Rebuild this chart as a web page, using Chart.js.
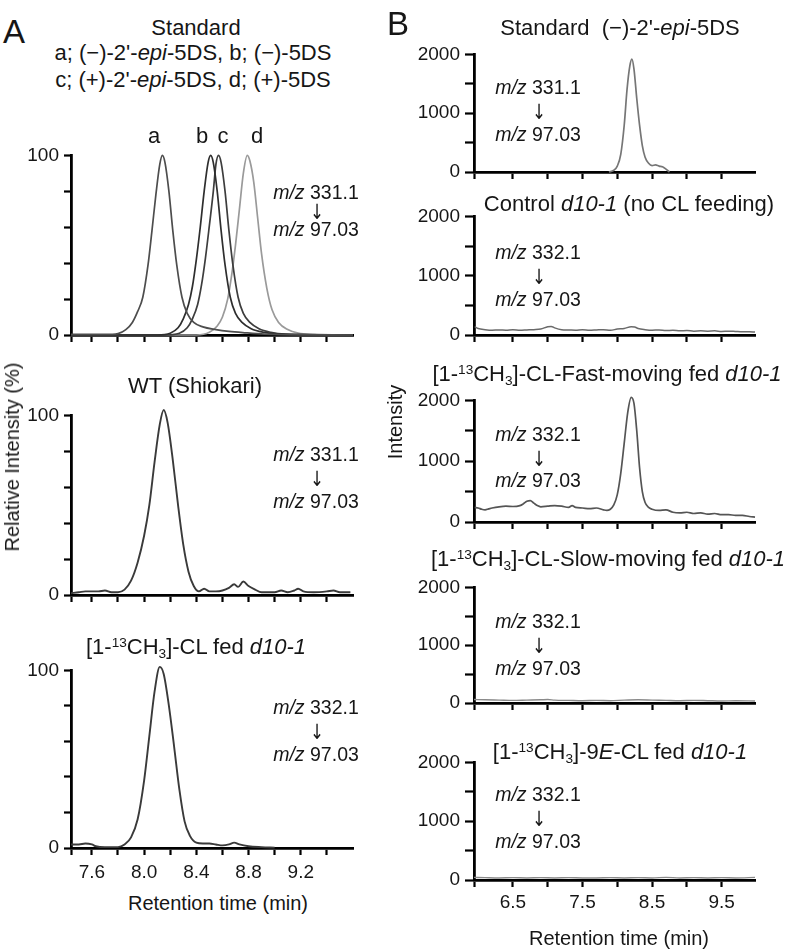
<!DOCTYPE html>
<html><head><meta charset="utf-8">
<script src="https://cdn.jsdelivr.net/npm/chart.js@4"></script>
<style>
body{margin:0;background:#fff;width:793px;height:949px;position:relative;overflow:hidden;font-family:"Liberation Sans",Arial,sans-serif;color:#161616}
canvas{position:absolute}
.t{position:absolute;white-space:nowrap;line-height:1;transform:translate(-50%,-50%);font-size:22px;z-index:2}
.m{font-size:19.5px}
.ar{font-size:21px;font-family:"DejaVu Sans",sans-serif;transform:translate(-50%,-50%) scaleX(0.8)}
.big{font-size:33px}
.rot{transform:translate(-50%,-50%) rotate(-90deg);font-size:20px}
sup{font-size:0.62em;vertical-align:0;position:relative;top:-0.5em}
sub{font-size:0.62em;vertical-align:0;position:relative;top:0.28em}
</style>
</head><body>
<canvas id="a1"></canvas><canvas id="a2"></canvas><canvas id="a3"></canvas>
<canvas id="b1"></canvas><canvas id="b2"></canvas><canvas id="b3"></canvas><canvas id="b4"></canvas><canvas id="b5"></canvas>

<div class="t big" style="left:14px;top:31px">A</div>
<div class="t" style="left:196px;top:28px">Standard</div>
<div class="t" style="left:193px;top:53px">a; (−)-2'-<i>epi</i>-5DS, b; (−)-5DS</div>
<div class="t" style="left:193px;top:80px">c; (+)-2'-<i>epi</i>-5DS, d; (+)-5DS</div>
<div class="t" style="left:154px;top:136px">a</div>
<div class="t" style="left:202px;top:136px">b</div>
<div class="t" style="left:223px;top:136px">c</div>
<div class="t" style="left:257px;top:136px">d</div>
<div class="t m" style="left:316px;top:193px"><i>m/z</i> 331.1</div>
<div class="t ar" style="left:317px;top:212px">↓</div>
<div class="t m" style="left:316px;top:230px"><i>m/z</i> 97.03</div>

<div class="t" style="left:195px;top:386px">WT (Shiokari)</div>
<div class="t m" style="left:316px;top:455px"><i>m/z</i> 331.1</div>
<div class="t ar" style="left:317px;top:479px">↓</div>
<div class="t m" style="left:316px;top:502px"><i>m/z</i> 97.03</div>

<div class="t" style="left:196px;top:647px">[1-<sup>13</sup>CH<sub>3</sub>]-CL fed <i>d10-1</i></div>
<div class="t m" style="left:316px;top:708px"><i>m/z</i> 332.1</div>
<div class="t ar" style="left:317px;top:732px">↓</div>
<div class="t m" style="left:316px;top:755px"><i>m/z</i> 97.03</div>

<div class="t" style="left:218px;top:903px;font-size:20px">Retention time (min)</div>
<div class="t rot" style="left:12px;top:457px">Relative Intensity (%)</div>

<div class="t big" style="left:398px;top:23px">B</div>
<div class="t" style="left:620px;top:28px">Standard&nbsp; (−)-2'-<i>epi</i>-5DS</div>
<div class="t m" style="left:538px;top:88px"><i>m/z</i> 331.1</div>
<div class="t ar" style="left:539px;top:112px">↓</div>
<div class="t m" style="left:538px;top:135px"><i>m/z</i> 97.03</div>

<div class="t" style="left:629px;top:204px">Control <i>d10-1</i> (no CL feeding)</div>
<div class="t m" style="left:538px;top:253px"><i>m/z</i> 332.1</div>
<div class="t ar" style="left:539px;top:277px">↓</div>
<div class="t m" style="left:538px;top:300px"><i>m/z</i> 97.03</div>

<div class="t" style="left:607px;top:374px">[1-<sup>13</sup>CH<sub>3</sub>]-CL-Fast-moving fed <i>d10-1</i></div>
<div class="t m" style="left:538px;top:435px"><i>m/z</i> 332.1</div>
<div class="t ar" style="left:539px;top:459px">↓</div>
<div class="t m" style="left:538px;top:481px"><i>m/z</i> 97.03</div>

<div class="t" style="left:608px;top:559px">[1-<sup>13</sup>CH<sub>3</sub>]-CL-Slow-moving fed <i>d10-1</i></div>
<div class="t m" style="left:538px;top:622px"><i>m/z</i> 332.1</div>
<div class="t ar" style="left:539px;top:646px">↓</div>
<div class="t m" style="left:538px;top:669px"><i>m/z</i> 97.03</div>

<div class="t" style="left:620px;top:752px">[1-<sup>13</sup>CH<sub>3</sub>]-9<i>E</i>-CL fed <i>d10-1</i></div>
<div class="t m" style="left:538px;top:795px"><i>m/z</i> 332.1</div>
<div class="t ar" style="left:539px;top:819px">↓</div>
<div class="t m" style="left:538px;top:842px"><i>m/z</i> 97.03</div>

<div class="t" style="left:619px;top:938px;font-size:20px">Retention time (min)</div>
<div class="t rot" style="left:395px;top:422px">Intensity</div>

<script>
// ---------- Panel A: x ticks / labels ----------
const aTicks = [7.44, 7.6, 7.8, 8.0, 8.2, 8.4, 8.6, 8.8, 9.0, 9.2, 9.4];
const aTickLabels = ['', '7.6', '', '8.0', '', '8.4', '', '8.8', '', '9.2', ''];
const aYTicks = [0, 20, 40, 60, 80, 100];
const aYLabels = ['0', '', '', '', '', '100'];

// Standard a,b,c,d (relative intensity %)
const stdA_t = [7.44, 7.70, 7.80, 7.86, 7.91, 7.95, 7.99, 8.03, 8.06, 8.09, 8.12, 8.14, 8.16, 8.19, 8.22, 8.25, 8.29, 8.33, 8.38, 8.45, 8.55, 8.65, 8.78, 8.92, 9.05, 9.60];
const stdA_v = [0.3, 0.3, 0.8, 3, 7, 13, 21, 39, 58, 78, 95, 100, 96, 80, 58, 39, 21, 12, 7, 4.5, 3, 2, 1.2, 0.5, 0.2, 0];
const stdB_t = [7.44, 8.10, 8.20, 8.26, 8.30, 8.34, 8.37, 8.40, 8.43, 8.46, 8.49, 8.51, 8.53, 8.56, 8.59, 8.62, 8.66, 8.70, 8.75, 8.82, 8.92, 9.05, 9.60];
const stdB_v = [0, 0, 1, 4, 9, 17, 27, 42, 60, 80, 96, 100, 96, 80, 58, 39, 21, 12, 7, 3.5, 1.5, 0.5, 0];
const stdC_t = [7.44, 8.15, 8.27, 8.33, 8.37, 8.41, 8.44, 8.47, 8.50, 8.53, 8.55, 8.57, 8.59, 8.62, 8.65, 8.68, 8.72, 8.76, 8.81, 8.88, 8.97, 9.08, 9.60];
const stdC_v = [0, 0, 1, 4, 9, 17, 28, 43, 61, 80, 95, 100, 96, 80, 58, 39, 21, 12, 7, 3.5, 1.5, 0.5, 0];
const stdD_t = [7.44, 8.40, 8.50, 8.56, 8.60, 8.64, 8.67, 8.70, 8.73, 8.76, 8.79, 8.81, 8.84, 8.87, 8.90, 8.94, 8.98, 9.03, 9.10, 9.18, 9.30, 9.60];
const stdD_v = [0, 0, 1.5, 5, 10, 20, 33, 50, 70, 90, 100, 97, 85, 65, 45, 26, 14, 7, 3, 1, 0.3, 0];

// WT (Shiokari)
const wt_t = [7.44, 7.50, 7.55, 7.60, 7.65, 7.70, 7.75, 7.80, 7.85, 7.90, 7.95, 8.00, 8.04, 8.08, 8.12, 8.15, 8.18, 8.22, 8.26, 8.30, 8.34, 8.38, 8.42, 8.46, 8.50, 8.55, 8.60, 8.65, 8.69, 8.72, 8.76, 8.80, 8.85, 8.90, 9.00, 9.05, 9.10, 9.15, 9.18, 9.22, 9.30, 9.40, 9.45, 9.50, 9.58];
const wt_v = [1, 1.5, 2, 2, 2, 2.5, 1.5, 1.5, 3, 8, 18, 33, 50, 74, 95, 103, 96, 75, 50, 28, 13, 5, 2, 3.5, 2, 2, 2.5, 4, 6, 4.5, 7.5, 5, 3, 1.5, 1.5, 2.5, 1.5, 2.5, 3.5, 2, 1.5, 2, 2.5, 1.5, 1.5];

// [1-13CH3]-CL fed d10-1
const cl_t = [7.44, 7.50, 7.55, 7.60, 7.63, 7.70, 7.80, 7.85, 7.90, 7.95, 8.00, 8.04, 8.08, 8.12, 8.15, 8.19, 8.23, 8.27, 8.31, 8.35, 8.40, 8.45, 8.50, 8.55, 8.60, 8.65, 8.69, 8.73, 8.80, 8.90, 9.00];
const cl_v = [2, 2, 2.5, 2, 1, 0.5, 0.5, 2, 6, 16, 38, 63, 88, 102, 98, 80, 57, 33, 15, 7, 3, 2.5, 2.5, 2, 1.5, 2, 3, 2, 1, 0.5, 0.2];

// ---------- Panel B: x ticks / labels ----------
const bTicks = [5.94, 6.5, 7.0, 7.5, 8.0, 8.5, 9.0, 9.5];
const bTickLabels = ['', '6.5', '', '7.5', '', '8.5', '', '9.5'];
const bYTicks = [0, 500, 1000, 1500, 2000];
const bYLabels = ['0', '', '1000', '', '2000'];

// Standard (-)-2'-epi-5DS (intensity)
const bStd_t = [7.88, 7.95, 8.00, 8.05, 8.10, 8.14, 8.18, 8.21, 8.24, 8.28, 8.32, 8.36, 8.40, 8.45, 8.50, 8.55, 8.60, 8.65, 8.70, 8.75];
const bStd_v = [0, 30, 100, 300, 800, 1400, 1800, 1920, 1750, 1250, 800, 450, 250, 150, 110, 120, 100, 90, 50, 0];

// Control d10-1
const bCtl_t = [5.95, 6.0, 6.1, 6.2, 6.3, 6.4, 6.5, 6.6, 6.7, 6.8, 6.9, 7.0, 7.05, 7.1, 7.2, 7.3, 7.4, 7.5, 7.6, 7.7, 7.8, 7.9, 8.0, 8.1, 8.2, 8.25, 8.3, 8.4, 8.5, 8.6, 8.7, 8.8, 8.9, 9.0, 9.1, 9.2, 9.3, 9.4, 9.5, 9.6, 9.7, 9.8, 9.9, 9.98];
const bCtl_v = [140, 110, 90, 80, 85, 80, 90, 80, 85, 90, 100, 140, 145, 120, 90, 85, 80, 90, 80, 85, 90, 80, 100, 110, 140, 135, 110, 90, 80, 85, 75, 80, 70, 75, 65, 70, 65, 70, 60, 65, 60, 55, 55, 50];

// Fast-moving fed
const bFast_t = [5.95, 6.0, 6.05, 6.1, 6.15, 6.2, 6.3, 6.4, 6.5, 6.6, 6.65, 6.7, 6.75, 6.8, 6.85, 6.9, 7.0, 7.1, 7.2, 7.3, 7.35, 7.4, 7.5, 7.6, 7.7, 7.8, 7.85, 7.9, 7.95, 8.0, 8.05, 8.1, 8.15, 8.2, 8.24, 8.28, 8.32, 8.36, 8.4, 8.45, 8.5, 8.6, 8.7, 8.8, 8.9, 9.0, 9.1, 9.2, 9.3, 9.4, 9.5, 9.6, 9.7, 9.8, 9.9, 9.98];
const bFast_v = [240, 230, 210, 200, 215, 230, 250, 260, 255, 270, 300, 340, 350, 310, 270, 250, 260, 270, 260, 240, 270, 240, 230, 220, 230, 200, 190, 210, 280, 450, 800, 1300, 1800, 2050, 1950, 1500, 900, 500, 320, 240, 210, 190, 200, 160, 150, 160, 140, 150, 130, 140, 120, 120, 110, 110, 90, 80];

// Slow-moving fed
const bSlow_t = [5.94, 6.1, 6.3, 6.5, 6.7, 6.9, 7.0, 7.1, 7.3, 7.5, 7.7, 7.9, 8.1, 8.3, 8.5, 8.7, 8.9, 9.1, 9.3, 9.5, 9.7, 9.98];
const bSlow_v = [60, 55, 50, 45, 50, 55, 60, 50, 45, 40, 45, 40, 50, 55, 50, 45, 40, 45, 40, 35, 40, 35];

// 9E-CL fed
const b9E_t = [5.94, 6.1, 6.3, 6.5, 6.7, 6.9, 7.1, 7.3, 7.5, 7.7, 7.9, 8.1, 8.3, 8.5, 8.7, 8.9, 9.1, 9.3, 9.5, 9.7, 9.98];
const b9E_v = [45, 40, 35, 40, 35, 40, 35, 40, 35, 35, 40, 35, 40, 35, 45, 35, 40, 35, 40, 35, 45];

const FONT = '"Liberation Sans", Arial, sans-serif';
const pts = (t, v) => t.map((x, i) => ({x: x, y: v[i]}));
const ds = (t, v, color, w) => ({data: pts(t, v), borderColor: color, borderWidth: w || 1.7, showLine: true, pointRadius: 0, cubicInterpolationMode: 'monotone', clip: false, fill: false});

function panel(id, g, datasets) {
  const padTop = 14, padRight = 8;
  const c = document.getElementById(id);
  const w = g.wy + (g.x1 - g.x0) + padRight;
  const h = padTop + (g.yBot - g.yTop) + g.hx;
  c.width = w; c.height = h;
  c.style.left = (g.x0 - g.wy) + 'px';
  c.style.top = (g.yTop - padTop) + 'px';
  c.style.width = w + 'px'; c.style.height = h + 'px';
  new Chart(c, {
    type: 'scatter',
    data: {datasets: datasets},
    options: {
      responsive: false, animation: false, events: [],
      layout: {padding: {top: padTop, right: padRight, left: 0, bottom: 0}},
      plugins: {legend: {display: false}, tooltip: {enabled: false}},
      scales: {
        x: {
          type: 'linear', min: g.xmin, max: g.xmax, z: 1,
          afterBuildTicks: a => { a.ticks = g.xt.map(v => ({value: v})); },
          afterFit: s => { s.height = g.hx; },
          border: {display: true, color: '#000', width: 2.8},
          grid: {display: true, drawOnChartArea: false, drawTicks: true, tickLength: 7, tickWidth: 2.2, tickColor: '#000'},
          ticks: {autoSkip: false, maxRotation: 0, padding: g.xpad, color: '#161616', font: {family: FONT, size: 19},
                  callback: (v, i) => g.showX ? g.xl[i] : ''}
        },
        y: {
          type: 'linear', min: g.ymin, max: g.ymax, z: 1,
          afterBuildTicks: a => { a.ticks = g.yt.map(v => ({value: v})); },
          afterFit: s => { s.width = g.wy; },
          border: {display: true, color: '#000', width: 2.8},
          grid: {display: true, drawOnChartArea: false, drawTicks: true, tickLength: g.ytl, tickWidth: 2.2, tickColor: '#000'},
          ticks: {autoSkip: false, padding: 5, color: '#161616', font: {family: FONT, size: 19},
                  callback: (v, i) => g.yl[i]}
        }
      }
    }
  });
}

const A = (yTop, yBot, showX) => ({x0: 71, x1: 353, wy: 70, yTop, yBot, hx: 40, xmin: 7.44, xmax: 9.6, xt: aTicks, xl: aTickLabels, showX, xpad: 6, ymin: 0, ymax: 100, yt: aYTicks, yl: aYLabels, ytl: 7});
const B = (yTop, yBot, showX) => ({x0: 474, x1: 755, wy: 90, yTop, yBot, hx: 36, xmin: 5.94, xmax: 9.98, xt: bTicks, xl: bTickLabels, showX, xpad: 4, ymin: 0, ymax: 2000, yt: bYTicks, yl: bYLabels, ytl: 9});

panel('a1', A(153, 335, false), [
  ds(stdA_t, stdA_v, '#4d4d4d'), ds(stdB_t, stdB_v, '#2e2e2e'), ds(stdC_t, stdC_v, '#3d3d3d'), ds(stdD_t, stdD_v, '#9a9a9a')
]);
panel('a2', A(413, 595, false), [ds(wt_t, wt_v, '#3a3a3a', 1.9)]);
panel('a3', A(668, 848, true), [ds(cl_t, cl_v, '#3a3a3a', 1.9)]);

panel('b1', B(52, 172, false), [ds(bStd_t, bStd_v, '#767676', 1.7)]);
panel('b2', B(214, 335, false), [ds(bCtl_t, bCtl_v, '#6a6a6a', 1.5)]);
panel('b3', B(398, 522, false), [ds(bFast_t, bFast_v, '#555', 1.7)]);
panel('b4', B(585, 703, false), [ds(bSlow_t, bSlow_v, '#8a8a8a', 1.4)]);
panel('b5', B(760, 880, true), [ds(b9E_t, b9E_v, '#8a8a8a', 1.4)]);
</script>
</body></html>
